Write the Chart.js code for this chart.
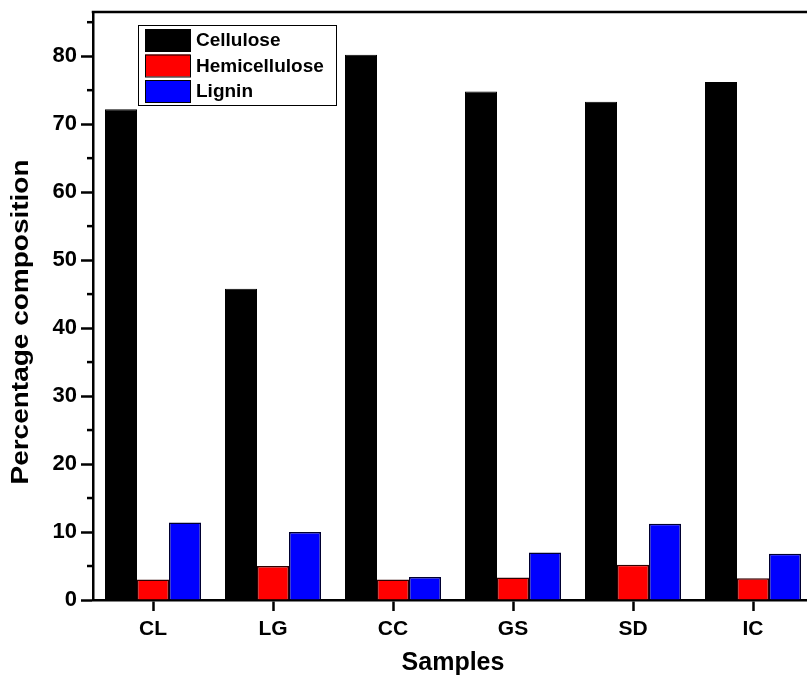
<!DOCTYPE html>
<html>
<head>
<meta charset="utf-8">
<script src="https://cdn.jsdelivr.net/npm/chart.js@4.4.0/dist/chart.umd.min.js"></script>
<style>
html,body{margin:0;padding:0;background:#fff;overflow:hidden;}
#wrap{width:830px;height:686px;}
</style>
</head>
<body>
<div id="wrap"><canvas id="c" width="830" height="686"></canvas></div>
<script>
const categories = ['CL', 'LG', 'CC', 'GS', 'SD', 'IC'];
const cellulose = [72.2, 45.8, 80.2, 74.8, 73.3, 76.2];
const hemicellulose = [3.0, 5.0, 3.0, 3.3, 5.2, 3.2];
const lignin = [11.4, 10.0, 3.4, 7.0, 11.2, 6.8];
const seriesNames = ['Cellulose', 'Hemicellulose', 'Lignin'];
const yMin = 0, yMax = 86.5, yStep = 10, yMinorStep = 5;
const xTitle = 'Samples';
const yTitle = 'Percentage composition';

const FONT = '"Liberation Sans", Arial, Helvetica, sans-serif';

const extras = {
  id: 'extras',
  afterDraw(chart) {
    const ctx = chart.ctx;
    const ca = chart.chartArea;
    const y = chart.scales.y;
    ctx.save();
    // top frame line
    ctx.strokeStyle = '#000';
    ctx.lineWidth = 2.5;
    ctx.beginPath();
    ctx.moveTo(ca.left - 1.25, ca.top);
    ctx.lineTo(chart.width, ca.top);
    ctx.stroke();
    // minor ticks on y axis
    ctx.lineWidth = 2.5;
    for (let v = yMin + yMinorStep; v <= yMax; v += yMinorStep * 2) {
      const py = y.getPixelForValue(v);
      ctx.beginPath();
      ctx.moveTo(ca.left - 6, py);
      ctx.lineTo(ca.left, py);
      ctx.stroke();
    }
    // y title
    ctx.save();
    ctx.translate(22, 322);
    ctx.rotate(-Math.PI / 2);
    ctx.font = 'bold 23px ' + FONT;
    const w = ctx.measureText(yTitle).width;
    ctx.scale(325 / w, 1);
    ctx.fillStyle = '#000';
    ctx.textAlign = 'center';
    ctx.textBaseline = 'middle';
    ctx.fillText(yTitle, 0, 0);
    ctx.restore();
    // legend
    const lx = 138, ly = 25, lw = 198, lh = 80;
    ctx.fillStyle = '#fff';
    ctx.fillRect(lx, ly, lw, lh);
    ctx.lineWidth = 1;
    ctx.strokeStyle = '#000';
    ctx.strokeRect(lx + 0.5, ly + 0.5, lw, lh);
    ctx.font = 'bold 19px ' + FONT;
    ctx.textBaseline = 'middle';
    ctx.textAlign = 'left';
    chart.data.datasets.forEach((ds, i) => {
      const ry = 29 + i * 25.5;
      ctx.fillStyle = ds.backgroundColor;
      ctx.fillRect(145, ry, 45, 22);
      ctx.strokeStyle = '#000';
      ctx.lineWidth = 1;
      ctx.strokeRect(145.5, ry + 0.5, 45, 22);
      ctx.fillStyle = '#000';
      ctx.fillText(ds.label, 196, ry + 12);
    });
    ctx.restore();
  }
};

new Chart(document.getElementById('c'), {
  type: 'bar',
  data: {
    labels: categories,
    datasets: [
      { label: seriesNames[0], data: cellulose, backgroundColor: '#000000', borderColor: '#000000', borderWidth: 1 },
      { label: seriesNames[1], data: hemicellulose, backgroundColor: '#ff0000', borderColor: '#300000', borderWidth: 1.5 },
      { label: seriesNames[2], data: lignin, backgroundColor: '#0000ff', borderColor: '#000030', borderWidth: 1.5 }
    ]
  },
  options: {
    responsive: false,
    animation: false,
    devicePixelRatio: 1,
    layout: { padding: { left: 0, top: 12, right: 17, bottom: 0 } },
    datasets: { bar: { categoryPercentage: 0.8, barPercentage: 1.0 } },
    plugins: { legend: { display: false }, tooltip: { enabled: false } },
    scales: {
      x: {
        grid: { display: true, drawOnChartArea: false, drawTicks: true, tickLength: 11, tickWidth: 2.5, tickColor: '#000', offset: false },
        border: { display: true, color: '#000', width: 2.5 },
        ticks: { color: '#000', font: { family: FONT, size: 21, weight: 'bold' }, padding: 6, maxRotation: 0 },
        title: { display: true, text: xTitle, color: '#000', font: { family: FONT, size: 25, weight: 'bold' }, padding: { top: 0, bottom: 8 } },
        afterFit(scale) { scale.height = 86; scale.paddingLeft = 0; scale.paddingRight = 0; }
      },
      y: {
        min: yMin, max: yMax,
        grid: { display: true, drawOnChartArea: false, drawTicks: true, tickLength: 12, tickWidth: 2.5, tickColor: '#000' },
        border: { display: true, color: '#000', width: 2.5 },
        ticks: { stepSize: yStep, includeBounds: false, color: '#000', font: { family: FONT, size: 22, weight: 'bold' }, padding: 4 },
        afterFit(scale) { scale.width = 93; scale.paddingTop = 0; scale.paddingBottom = 0; }
      }
    }
  },
  plugins: [extras]
});
</script>
</body>
</html>
